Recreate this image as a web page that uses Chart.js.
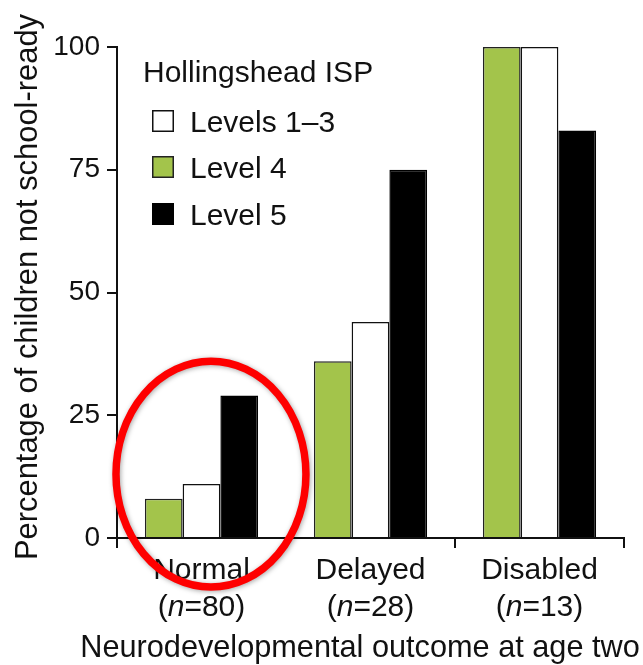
<!DOCTYPE html>
<html>
<head>
<meta charset="utf-8">
<script src="https://cdn.jsdelivr.net/npm/chart.js@4.4.0/dist/chart.umd.min.js"></script>
<style>
  html, body { margin: 0; padding: 0; background: #ffffff; }
  #wrap { width: 643px; height: 665px; position: relative; }
</style>
</head>
<body>
<div id="wrap"><canvas id="c" width="643" height="665"></canvas></div>
<script>
// Outcome groups and their sizes
const categories = ['Normal', 'Delayed', 'Disabled'];
const groupSizes = [80, 28, 13];

// Percentage of children not school-ready, by Hollingshead ISP level
const level4 = [8, 36, 100];
const levels13 = [11, 44, 100];
const level5 = [29, 75, 83];

// Y axis tick values
const yTicks = [0, 25, 50, 75, 100];

// Legend order (differs from bar order)
const legendOrder = ['Levels 1\u20133', 'Level 4', 'Level 5'];

const FONT = '"Liberation Sans", Arial, Helvetica, sans-serif';
const GREEN = '#a3c44b';
const INK = '#111111';

// Draws titles, category labels, the legend and the highlight ring
const decorations = {
  id: 'decorations',
  afterDraw(chart) {
    const ctx = chart.ctx;
    const xs = chart.scales.x;
    const ys = chart.scales.y;
    const area = chart.chartArea;
    ctx.save();
    ctx.fillStyle = INK;

    // Category labels with group sizes
    categories.forEach((name, i) => {
      const cx = xs.getPixelForValue(i);
      ctx.font = '30px ' + FONT;
      ctx.textAlign = 'center';
      ctx.textBaseline = 'alphabetic';
      ctx.fillText(name, cx, area.bottom + 41);

      const parts = [
        { t: '(', f: '30px ' + FONT },
        { t: 'n', f: 'italic 30px ' + FONT },
        { t: '=' + groupSizes[i] + ')', f: '30px ' + FONT }
      ];
      let total = 0;
      parts.forEach(p => { ctx.font = p.f; p.w = ctx.measureText(p.t).width; total += p.w; });
      let x = cx - total / 2;
      ctx.textAlign = 'left';
      parts.forEach(p => { ctx.font = p.f; ctx.fillText(p.t, x, area.bottom + 78); x += p.w; });
    });

    // X axis title
    ctx.font = '30.7px ' + FONT;
    ctx.textAlign = 'center';
    ctx.fillText('Neurodevelopmental outcome at age two', 360, 657);

    // Y axis title
    ctx.save();
    ctx.translate(37, 287);
    ctx.rotate(-Math.PI / 2);
    ctx.font = '30.9px ' + FONT;
    ctx.textAlign = 'center';
    ctx.fillText('Percentage of children not school-ready', 0, 0);
    ctx.restore();

    // Legend
    const lx = area.left + 26;
    ctx.font = '30px ' + FONT;
    ctx.textAlign = 'left';
    ctx.fillText('Hollingshead ISP', lx, 82);
    const baselines = [132, 178, 225];
    legendOrder.forEach((label, k) => {
      const ds = chart.data.datasets.find(d => d.label === label);
      const by = baselines[k];
      ctx.fillStyle = ds.backgroundColor;
      ctx.fillRect(lx + 9, by - 22, 22, 22);
      ctx.strokeStyle = ds.borderColor;
      ctx.lineWidth = 1.5;
      ctx.strokeRect(lx + 9.75, by - 21.25, 20.5, 20.5);
      ctx.fillStyle = INK;
      ctx.fillText(label, lx + 47, by);
    });

    // Highlight ring around the first outcome group
    const catW = (xs.right - xs.left) / categories.length;
    const ex = xs.getPixelForValue(0) + 0.056 * catW;
    const ey = ys.getPixelForValue(13);
    const rx = 0.562 * catW;
    const ry = ys.getPixelForValue(0) - ys.getPixelForValue(23);
    ctx.beginPath();
    ctx.ellipse(ex, ey, rx, ry, 0, 0, Math.PI * 2);
    ctx.strokeStyle = '#fe0000';
    ctx.lineWidth = 7.5;
    ctx.shadowColor = 'rgba(0,0,0,0.35)';
    ctx.shadowBlur = 5;
    ctx.shadowOffsetX = 1;
    ctx.shadowOffsetY = 1;
    ctx.stroke();
    ctx.restore();
  }
};

new Chart(document.getElementById('c'), {
  type: 'bar',
  data: {
    labels: categories,
    datasets: [
      { label: 'Level 4', data: level4, backgroundColor: GREEN, borderColor: '#222222', borderWidth: 1.5 },
      { label: 'Levels 1\u20133', data: levels13, backgroundColor: '#ffffff', borderColor: '#111111', borderWidth: 1.5 },
      { label: 'Level 5', data: level5, backgroundColor: '#000000', borderColor: '#000000', borderWidth: 1.5 }
    ]
  },
  options: {
    responsive: false,
    animation: false,
    devicePixelRatio: 1,
    layout: { padding: { top: 47, right: 19, bottom: 0, left: 0 } },
    datasets: { bar: { categoryPercentage: 0.67, barPercentage: 1.0, borderSkipped: 'bottom' } },
    plugins: {
      legend: { display: false },
      tooltip: { enabled: false },
      title: { display: false }
    },
    scales: {
      x: {
        offset: true,
        grid: {
          offset: true,
          drawOnChartArea: false,
          drawTicks: true,
          tickLength: 10,
          color: INK,
          lineWidth: 2
        },
        border: { display: true, color: INK, width: 2 },
        ticks: { display: false },
        afterFit(scale) { scale.height = 127; }
      },
      y: {
        min: 0,
        max: 100,
        afterBuildTicks(scale) { scale.ticks = yTicks.map(v => ({ value: v })); },
        grid: {
          drawOnChartArea: false,
          drawTicks: true,
          tickLength: 10,
          color: INK,
          lineWidth: 2
        },
        border: { display: true, color: INK, width: 2 },
        ticks: {
          color: INK,
          padding: 7,
          font: { family: FONT, size: 28 }
        },
        afterFit(scale) { scale.width = 117; }
      }
    }
  },
  plugins: [decorations]
});
</script>
</body>
</html>
